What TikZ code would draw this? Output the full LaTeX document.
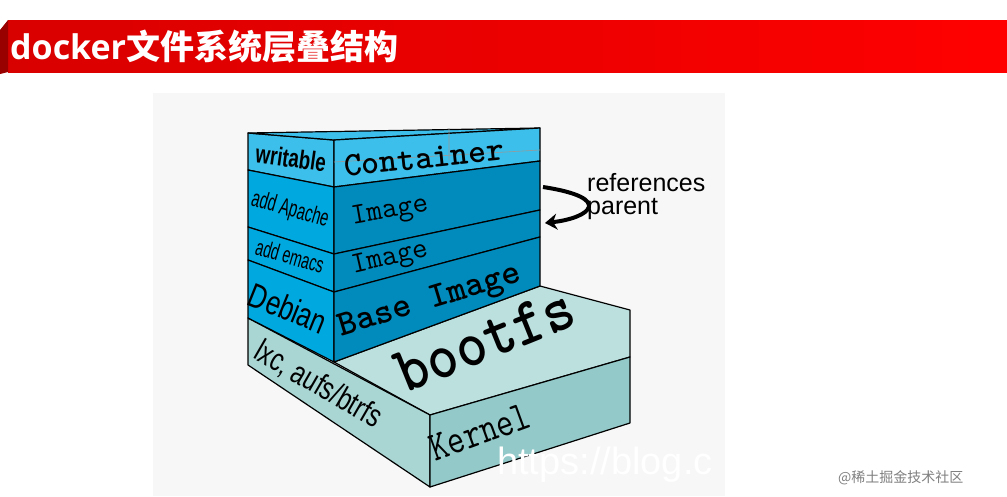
\documentclass[tikz,border=0pt]{standalone}
\usepackage{fontspec}
\setsansfont{Liberation Sans}
\newfontfamily\cjk{Noto Sans CJK SC}
\newfontfamily\titlefont{Open Sans}
\usetikzlibrary{arrows.meta}
\definecolor{cont}{HTML}{3CBFEA}
\definecolor{leftb}{HTML}{00A8E0}
\definecolor{imgr}{HTML}{008BBC}
\definecolor{ktop}{HTML}{BCE0DE}
\definecolor{kleft}{HTML}{A9D5D3}
\definecolor{kright}{HTML}{93C9C9}
\tikzset{face/.style={draw=black,line width=1.2pt,line join=round},
lbl/.style={font=\sffamily\fontsize{24}{24}\selectfont,inner sep=0pt},
mono/.style={font=\ttfamily\fontsize{30}{30}\selectfont,inner sep=0pt}}
\begin{document}
\begin{tikzpicture}[x=1pt,y=-1pt]
\useasboundingbox (0,0) rectangle (1007,496);
\fill[white] (0,0) rectangle (1007,496);
% title bar
\shade[left color=red!85!black,right color=red] (8,20) rectangle (1007,72);
\fill[red!60!black] (0,30) -- (8,20) -- (8,72) -- (0,74) -- cycle;
\node[anchor=west,text=white,inner sep=0pt] (title) at (10,47) {\fontsize{34}{34}\selectfont\titlefont\bfseries docker\cjk\bfseries 文件系统层叠结构};
% panel
\fill[gray!6] (153,93) rectangle (725,496);
% kernel block
\draw[face,fill=ktop] (334,362) -- (540,286) -- (630,310) -- (630,357) -- (430,415) -- cycle;
\draw[face,fill=kleft] (248,318) -- (430,415) -- (430,487) -- (248,365) -- cycle;
\draw[face,fill=kright] (430,415) -- (630,357) -- (630,423) -- (430,487) -- cycle;
% left column
\draw[face,fill=cont] (248,133) -- (334,140) -- (334,187) -- (248,170) -- cycle;
\draw[face,fill=leftb] (248,170) -- (334,187) -- (334,254) -- (248,227) -- cycle;
\draw[face,fill=leftb] (248,227) -- (334,254) -- (334,292) -- (248,260) -- cycle;
\draw[face,fill=leftb] (248,260) -- (334,292) -- (334,362) -- (248,318) -- cycle;
% right faces
\draw[face,fill=cont] (248,133) -- (540,128) -- (334,140) -- cycle;
\draw[face,fill=cont] (334,140) -- (540,128) -- (540,161) -- (334,187) -- cycle;
\draw[face,fill=imgr] (334,187) -- (540,161) -- (540,210) -- (334,254) -- cycle;
\draw[face,fill=imgr] (334,254) -- (540,210) -- (540,237) -- (334,292) -- cycle;
\draw[face,fill=imgr] (334,292) -- (540,237) -- (540,286) -- (334,362) -- cycle;
\draw[black!40,line width=0.6pt] (449,128) -- (449,160) (334,162) -- (540,150);
% labels left
\node[lbl,rotate=-8,xscale=0.72,font=\sffamily\bfseries\fontsize{26}{26}\selectfont] (w) at (291,158) {writable};
\node[lbl,rotate=-16,xscale=0.62] (ap) at (290,210) {add Apache};
\node[lbl,rotate=-16,xscale=0.62,font=\sffamily\fontsize{23}{23}\selectfont] (em) at (290,256) {add emacs};
\node[lbl,rotate=-22,xscale=0.75,font=\sffamily\fontsize{34}{34}\selectfont] (deb) at (288,308) {Debian};
\node[lbl,rotate=-30,xscale=0.75,font=\sffamily\fontsize{32}{32}\selectfont] (lxc) at (318,385) {lxc, aufs/btrfs};
% labels right
\node[mono,rotate=6,font=\ttfamily\bfseries\fontsize{34}{34}\selectfont] (c) at (424,158) {Container};
\node[mono,rotate=10] (i1) at (390,212) {Image};
\node[mono,rotate=13] (i2) at (390,259) {Image};
\node[mono,rotate=17,font=\ttfamily\bfseries\fontsize{36}{36}\selectfont] (bi) at (430,302) {Base Image};
\node[mono,rotate=22,xscale=0.9,font=\ttfamily\bfseries\fontsize{66}{66}\selectfont] (bf) at (485,340) {bootfs};
\node[mono,rotate=20,xscale=0.8,font=\ttfamily\fontsize{42}{42}\selectfont] (k) at (480,432) {Kernel};
% arrow
\coordinate (a1) at (543,187);
\coordinate (a2) at (545,223);
\draw[line width=4pt,-{Stealth[length=12pt,width=16pt]}] (a1) .. controls (615,198) and (590,218) .. (a2);
\node[anchor=west,align=left,font=\sffamily\fontsize{25}{23}\selectfont,inner sep=0pt] (ref) at (587,197) {references\\parent};
% watermarks
\node[anchor=west,text=white,font=\sffamily\fontsize{38}{38}\selectfont,inner sep=0pt] (wm) at (497,465) {https://blog.c};
\node[anchor=west,text=gray,font=\cjk\fontsize{14}{14}\selectfont,inner sep=0pt] (wm2) at (838,478) {@稀土掘金技术社区};
\end{tikzpicture}
\end{document}
